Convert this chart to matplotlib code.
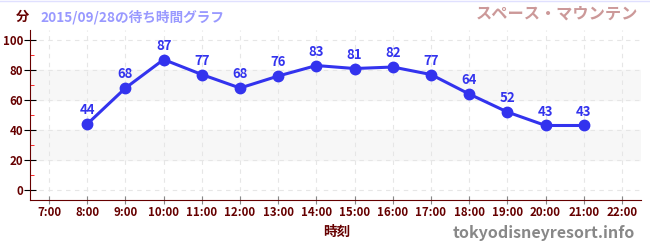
import matplotlib
matplotlib.use('Agg')
import matplotlib.pyplot as plt
from matplotlib.ticker import MultipleLocator, FuncFormatter

plt.rcParams['font.family'] = ['Noto Sans CJK JP', 'DejaVu Sans']

# 時刻（時）と待ち時間（分）
hours = [8, 9, 10, 11, 12, 13, 14, 15, 16, 17, 18, 19, 20, 21]
waits = [44, 68, 87, 77, 68, 76, 83, 81, 82, 77, 64, 52, 43, 43]
tick_hours = list(range(7, 23))
bands = [(20, 40), (60, 80)]

dark = '#660000'
blue = '#3333ee'

fig = plt.figure(figsize=(6.5, 2.5), dpi=100)
ax = fig.add_axes([30 / 650, 50 / 250, 611 / 650, 170 / 250])

for lo, hi in bands:
    ax.axhspan(lo, hi, color='#f7f7f7', zorder=0)

ax.plot(hours, waits, color=blue, lw=2.2, marker='o', ms=7.5, zorder=3)
for h, w in zip(hours, waits):
    ax.annotate(str(w), (h, w), xytext=(0, 5), textcoords='offset points',
                ha='center', va='bottom', color=blue, fontsize=9.5,
                fontweight='bold')

ax.set_xlim(6.5, 22.5)
ax.set_ylim(-6.7, 106.7)
ax.set_xticks(tick_hours)
ax.xaxis.set_major_formatter(FuncFormatter(lambda v, p: '%d:00' % v))
ax.yaxis.set_major_locator(MultipleLocator(20))
ax.yaxis.set_minor_locator(MultipleLocator(10))

ax.grid(True, which='major', color='#e6e6e6', ls=(0, (4, 4)), lw=0.8)
ax.set_axisbelow(True)

for s in ['top', 'right']:
    ax.spines[s].set_visible(False)
ax.spines['left'].set_color(dark)
ax.spines['bottom'].set_color(dark)

ax.tick_params(axis='x', direction='inout', length=6, color='#888888',
               labelsize=8.3, labelcolor=dark, pad=1)
ax.tick_params(axis='y', which='major', direction='inout', length=8,
               color='black', labelsize=8.3, labelcolor=dark, pad=1)
ax.tick_params(axis='y', which='minor', direction='in', length=3,
               color='red')
for lab in ax.get_xticklabels() + ax.get_yticklabels():
    lab.set_fontweight('bold')

fig.text(22 / 650, 1 - 17 / 250, '分', color=dark, fontsize=9.5,
         fontweight='bold', ha='center', va='center')
fig.text(40 / 650, 1 - 17 / 250, '2015/09/28の待ち時間グラフ', color='#9999ff',
         fontsize=9.8, fontweight='bold', ha='left', va='center')
fig.text(638 / 650, 1 - 14 / 250, 'スペース・マウンテン', color='#cc9999',
         fontsize=11.7, fontweight='bold', ha='right', va='center')
fig.text(337 / 650, 1 - 232 / 250, '時刻', color=dark, fontsize=9.8,
         fontweight='bold', ha='center', va='center')
fig.text(635 / 650, 1 - 233 / 250, 'tokyodisneyresort.info', color='#888888',
         fontsize=11.5, fontweight='bold', ha='right', va='center')
fig.add_artist(plt.Line2D([0, 1], [0.998, 0.998], color='#e0e0ff', lw=1))

fig.savefig('out.png', dpi=100)
